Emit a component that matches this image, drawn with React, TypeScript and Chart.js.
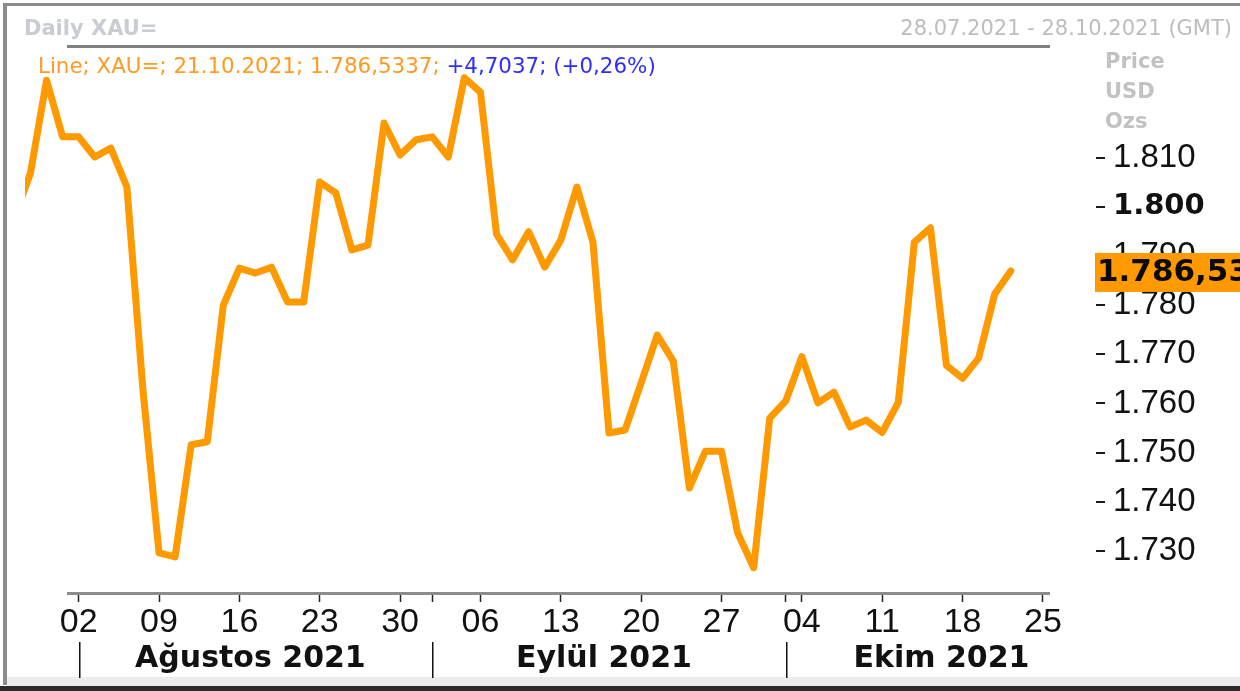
import React, { useEffect, useRef } from 'react';
import { Chart, registerables } from 'chart.js';

Chart.register(...registerables);

// ---- data ----
const tradingDates = [
  '27.07.2021', '28.07.2021', '29.07.2021', '30.07.2021',
  '02.08.2021', '03.08.2021', '04.08.2021', '05.08.2021', '06.08.2021',
  '09.08.2021', '10.08.2021', '11.08.2021', '12.08.2021', '13.08.2021',
  '16.08.2021', '17.08.2021', '18.08.2021', '19.08.2021', '20.08.2021',
  '23.08.2021', '24.08.2021', '25.08.2021', '26.08.2021', '27.08.2021',
  '30.08.2021', '31.08.2021', '01.09.2021', '02.09.2021', '03.09.2021',
  '06.09.2021', '07.09.2021', '08.09.2021', '09.09.2021', '10.09.2021',
  '13.09.2021', '14.09.2021', '15.09.2021', '16.09.2021', '17.09.2021',
  '20.09.2021', '21.09.2021', '22.09.2021', '23.09.2021', '24.09.2021',
  '27.09.2021', '28.09.2021', '29.09.2021', '30.09.2021', '01.10.2021',
  '04.10.2021', '05.10.2021', '06.10.2021', '07.10.2021', '08.10.2021',
  '11.10.2021', '12.10.2021', '13.10.2021', '14.10.2021', '15.10.2021',
  '18.10.2021', '19.10.2021', '20.10.2021', '21.10.2021',
];

const prices = [
  1797.5, 1806.4, 1825.3, 1813.8,
  1813.8, 1809.7, 1811.5, 1803.6, 1762.3,
  1729.2, 1728.4, 1751.2, 1751.8, 1779.6,
  1787.1, 1786.1, 1787.3, 1780.2, 1780.2,
  1804.6, 1802.4, 1790.8, 1791.8, 1816.6,
  1810.1, 1813.2, 1813.8, 1809.7, 1825.8,
  1822.9, 1794.0, 1788.8, 1794.5, 1787.3,
  1792.8, 1803.6, 1792.4, 1753.6, 1754.2,
  1763.8, 1773.5, 1768.2, 1742.4, 1749.9,
  1749.9, 1733.3, 1726.2, 1756.6, 1760.1,
  1769.1, 1759.7, 1761.9, 1754.8, 1756.2,
  1753.7, 1759.8, 1792.4, 1795.3, 1767.3,
  1764.7, 1768.8, 1781.83, 1786.5337,
];

// trading-day index of 28.07.2021 is 0
const firstIndexOffset = -1;

const weekTickIndex = [3, 8, 13, 18, 23, 28, 33, 38, 43, 48, 53, 58, 63];
const weekTickLabels = ['02', '09', '16', '23', '30', '06', '13', '20', '27', '04', '11', '18', '25'];

const monthStartIndex = [3, 25, 47];
const monthEndIndex = [24, 46, 66];
const monthLabels = ['Ağustos 2021', 'Eylül 2021', 'Ekim 2021'];

const yTickValues = [1730, 1740, 1750, 1760, 1770, 1780, 1790, 1800, 1810];
const boldYTick = 1800;

const xRange = [-0.34, 63.44];
const yRange = [1721.06, 1831.45];

const titleText = 'Daily XAU=';
const dateRangeText = '28.07.2021 - 28.10.2021 (GMT)';
const unitLines = ['Price', 'USD', 'Ozs'];
const changeValue = 4.7037;
const changePct = 0.26;

// ---- helpers ----
function fmtThousands(v: number): string {
  const n = Math.round(v);
  const th = Math.floor(n / 1000);
  const rest = String(n % 1000).padStart(3, '0');
  return th > 0 ? th + '.' + rest : String(n);
}
function fmtDecimal(v: number, digits: number): string {
  const s = v.toFixed(digits);
  const [ip, dp] = s.split('.');
  return fmtThousands(Number(ip)) + ',' + dp;
}

const ORANGE = '#ff9900';
const W = 1240;
const H = 691;

const decorPlugin = {
  id: 'decor',
  beforeDraw(chart: any) {
    const ctx = chart.ctx as CanvasRenderingContext2D;
    ctx.save();
    ctx.fillStyle = '#ffffff';
    ctx.fillRect(0, 0, W, H);
    // frame
    ctx.fillStyle = '#8c8c8c';
    ctx.fillRect(3, 3, 4, 682);
    ctx.fillRect(3, 3, W - 3, 3);
    ctx.fillStyle = '#ececec';
    ctx.fillRect(7, 677, W - 7, 9);
    ctx.fillStyle = '#2b2b2b';
    ctx.fillRect(0, 686, W, 5);
    // header line
    ctx.fillStyle = '#808080';
    ctx.fillRect(67, 45, 983, 3);
    ctx.restore();
  },
  afterDraw(chart: any) {
    const ctx = chart.ctx as CanvasRenderingContext2D;
    const xs = chart.scales.x;
    const ys = chart.scales.y;
    const area = chart.chartArea;
    ctx.save();

    // title
    ctx.textBaseline = 'alphabetic';
    ctx.textAlign = 'left';
    ctx.font = 'bold 21px "DejaVu Sans"';
    ctx.fillStyle = '#c9cdd2';
    ctx.fillText(titleText, 24, 35);

    ctx.textAlign = 'right';
    ctx.font = '21px "DejaVu Sans"';
    ctx.fillStyle = '#bdbdbd';
    ctx.fillText(dateRangeText, 1232, 35);

    // sub header
    const lastIdx = prices.length - 1;
    const lastVal = prices[lastIdx];
    const part1 = 'Line; XAU=; ' + tradingDates[lastIdx] + '; ' + fmtDecimal(lastVal, 4) + '; ';
    const part2 = '+' + fmtDecimal(changeValue, 4) + '; (+' + fmtDecimal(changePct, 2) + '%)';
    ctx.textAlign = 'left';
    ctx.font = '21.4px "DejaVu Sans"';
    ctx.fillStyle = '#ff9a22';
    ctx.fillText(part1, 38, 73);
    const w1 = ctx.measureText(part1).width;
    ctx.fillStyle = '#2e2eff';
    ctx.fillText(part2, 38 + w1, 73);

    // units
    ctx.font = 'bold 21px "DejaVu Sans"';
    ctx.fillStyle = '#c2c2c2';
    unitLines.forEach((t, k) => ctx.fillText(t, 1105, 68 + k * 30));

    // x axis line
    ctx.fillStyle = '#8c8c8c';
    ctx.fillRect(67, area.bottom - 1, area.right - 67, 3);

    // y dashes
    ctx.fillStyle = '#1a1a1a';
    yTickValues.forEach((v) => {
      const py = Math.round(ys.getPixelForValue(v));
      ctx.fillRect(1096, py + 1, 9, 2);
    });

    // month row
    ctx.fillStyle = '#111111';
    monthStartIndex.forEach((mi) => {
      const px = Math.round(xs.getPixelForValue(mi));
      ctx.fillRect(px, 642, 1.5, 36);
    });
    ctx.font = 'bold 30px "DejaVu Sans"';
    ctx.textAlign = 'center';
    ctx.textBaseline = 'middle';
    monthLabels.forEach((lab, k) => {
      const mid = (monthStartIndex[k] + monthEndIndex[k]) / 2;
      ctx.fillText(lab, xs.getPixelForValue(mid) + 3, 659);
    });

    // current value box
    const py = ys.getPixelForValue(lastVal);
    ctx.fillStyle = ORANGE;
    ctx.fillRect(1095, py - 18, W - 1095, 39);
    ctx.fillStyle = '#0a0a0a';
    ctx.font = 'bold 31px "DejaVu Sans"';
    ctx.textAlign = 'left';
    ctx.textBaseline = 'middle';
    ctx.fillText(fmtDecimal(lastVal, 2), 1097, py + 2);

    ctx.restore();
  },
};

export default function App() {
  const ref = useRef<HTMLCanvasElement | null>(null);

  useEffect(() => {
    if (!ref.current) return;
    const points = prices.map((p, k) => ({ x: k + firstIndexOffset, y: p }));
    const chart = new Chart(ref.current, {
      type: 'line',
      data: {
        datasets: [
          {
            label: 'XAU=',
            data: points,
            borderColor: ORANGE,
            backgroundColor: ORANGE,
            borderWidth: 7,
            pointRadius: 0,
            tension: 0,
            borderJoinStyle: 'round',
            borderCapStyle: 'round',
          },
        ],
      },
      options: {
        animation: false,
        responsive: false,
        devicePixelRatio: 1,
        layout: { padding: { left: 25, top: 50, right: 0, bottom: 0 } },
        plugins: { legend: { display: false }, tooltip: { enabled: false } },
        events: [],
        scales: {
          x: {
            type: 'linear',
            min: xRange[0],
            max: xRange[1],
            afterBuildTicks: (s: any) => {
              const vals = [...weekTickIndex, ...monthStartIndex]
                .filter((v, i, a) => a.indexOf(v) === i)
                .sort((a, b) => a - b);
              s.ticks = vals.map((v) => ({ value: v }));
            },
            afterFit: (s: any) => {
              s.height = 98;
              s.paddingLeft = 0;
              s.paddingRight = 0;
            },
            border: { display: false },
            grid: {
              display: true,
              drawOnChartArea: false,
              drawTicks: true,
              tickLength: 9,
              tickColor: '#222222',
              tickWidth: 1.5,
              color: '#222222',
            },
            ticks: {
              autoSkip: false,
              maxRotation: 0,
              minRotation: 0,
              padding: 0,
              color: '#111111',
              font: { family: 'Liberation Sans', size: 34 },
              callback: (v: any) => {
                const k = weekTickIndex.indexOf(Number(v));
                return k >= 0 ? weekTickLabels[k] : '';
              },
            },
          },
          y: {
            type: 'linear',
            position: 'right',
            min: yRange[0],
            max: yRange[1],
            afterBuildTicks: (s: any) => {
              s.ticks = yTickValues.map((v) => ({ value: v }));
            },
            afterFit: (s: any) => {
              s.width = 190;
              s.paddingTop = 0;
              s.paddingBottom = 0;
            },
            border: { display: false },
            grid: { display: false, drawTicks: false },
            ticks: {
              padding: 63,
              labelOffset: 2,
              color: '#111111',
              font: (c: any) =>
                c.tick && c.tick.value === boldYTick
                  ? { family: 'DejaVu Sans', size: 29, weight: 'bold' }
                  : { family: 'Liberation Sans', size: 33 },
              callback: (v: any) => fmtThousands(Number(v)),
            },
          },
        },
      },
      plugins: [decorPlugin],
    } as any);
    return () => chart.destroy();
  }, []);

  return (
    <div style={{ position: 'fixed', left: 0, top: 0, width: W, height: H, background: '#fff' }}>
      <canvas ref={ref} width={W} height={H} style={{ display: 'block', width: W, height: H }} />
    </div>
  );
}
